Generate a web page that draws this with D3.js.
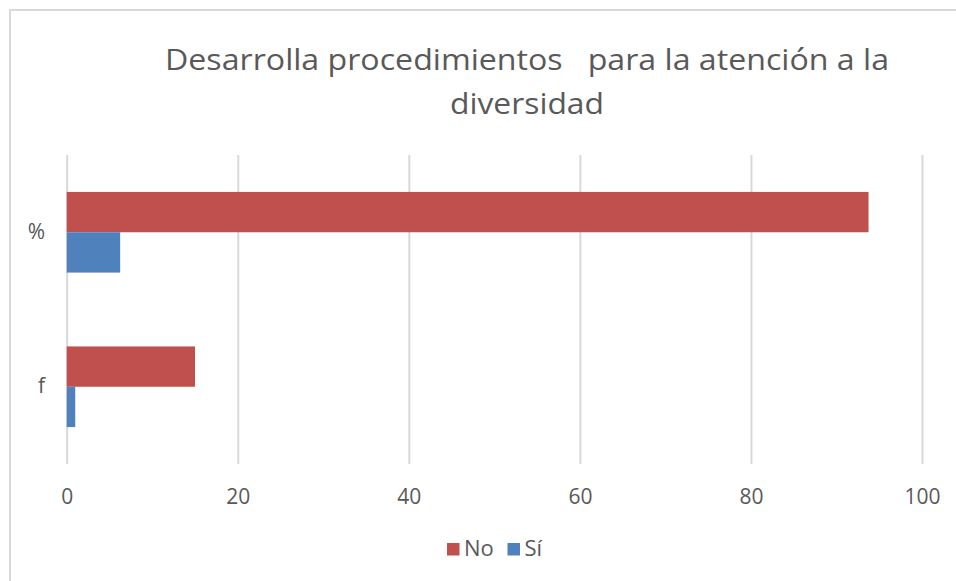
<!DOCTYPE html>
<html>
<head>
<meta charset="utf-8">
<script src="https://cdn.jsdelivr.net/npm/d3@7"></script>
<style>
  html, body { margin: 0; padding: 0; background: #fff; }
  svg { display: block; font-family: 'Open Sans', sans-serif; }
  .tick text { fill: #595959; }
</style>
</head>
<body>
<svg id="chart" width="956" height="581"></svg>
<script>
// data
const categories = ['%', 'f'];
const seriesNames = ['No', 'Sí'];
const noValues = [93.75, 15];
const siValues = [6.25, 1];
const xTicks = [0, 20, 40, 60, 80, 100];
const titleLines = ['Desarrolla procedimientos   para la atención a la', 'diversidad'];

const colors = {No: '#c0504d', 'Sí': '#4f81bd'};
const textColor = '#595959';
const gridColor = '#d9d9d9';

const svg = d3.select('#chart');
const plot = {left: 66.7, right: 922, top: 155, bottom: 464};

// outer chart border (runs off the right and bottom of the picture)
svg.append('rect')
  .attr('x', 10).attr('y', 10)
  .attr('width', 1200).attr('height', 1200)
  .attr('fill', 'none')
  .attr('stroke', gridColor)
  .attr('stroke-width', 2);

// title
const titleLen = [724, 154];
svg.append('g').selectAll('text')
  .data(titleLines)
  .enter().append('text')
    .attr('x', 527)
    .attr('y', (d, i) => 70 + i * 43.5)
    .attr('text-anchor', 'middle')
    .attr('font-size', 30)
    .attr('fill', textColor)
    .attr('textLength', (d, i) => titleLen[i])
    .attr('lengthAdjust', 'spacingAndGlyphs')
    .style('white-space', 'pre')
    .attr('xml:space', 'preserve')
    .text(d => d);

const x = d3.scaleLinear().domain([0, 100]).range([plot.left, plot.right]);
const y = d3.scaleBand().domain(categories)
  .range([plot.top, plot.bottom])
  .paddingInner(0.478).paddingOuter(0.239);
const ySub = d3.scaleBand().domain(seriesNames).range([0, y.bandwidth()]);

// gridlines
svg.append('g')
  .attr('transform', `translate(0,${plot.bottom})`)
  .call(d3.axisBottom(x).tickValues(xTicks).tickSize(-(plot.bottom - plot.top)).tickFormat(''))
  .call(g => g.select('.domain').remove())
  .call(g => g.selectAll('line').attr('stroke', gridColor).attr('stroke-width', 2));

// tick labels
svg.append('g')
  .attr('transform', `translate(0,${plot.bottom})`)
  .call(d3.axisBottom(x).tickValues(xTicks).tickSize(0).tickPadding(0))
  .call(g => g.select('.domain').remove())
  .call(g => g.selectAll('text')
    .attr('dy', null).attr('y', 39.5)
    .attr('font-size', 21).attr('font-family', "'Open Sans', sans-serif"));

// category labels
svg.append('g')
  .call(d3.axisLeft(y).tickSize(0).tickPadding(0))
  .attr('transform', 'translate(45,0)')
  .call(g => g.select('.domain').remove())
  .call(g => g.selectAll('text')
    .attr('font-size', 21).attr('font-family', "'Open Sans', sans-serif"));

// bars
const rows = categories.map((c, i) => ({cat: c, vals: [
  {name: 'No', value: noValues[i]},
  {name: 'Sí', value: siValues[i]}
]}));

svg.append('g').selectAll('g')
  .data(rows)
  .enter().append('g')
    .attr('transform', d => `translate(0,${y(d.cat)})`)
  .selectAll('rect')
  .data(d => d.vals)
  .enter().append('rect')
    .attr('x', x(0))
    .attr('y', d => ySub(d.name))
    .attr('width', d => x(d.value) - x(0))
    .attr('height', ySub.bandwidth())
    .attr('fill', d => colors[d.name]);

// legend
const legendX = [447, 507.5];
const legend = svg.append('g').selectAll('g')
  .data(seriesNames)
  .enter().append('g')
    .attr('transform', (d, i) => `translate(${legendX[i]},543)`);
legend.append('rect')
  .attr('width', 12.5).attr('height', 12.5)
  .attr('fill', d => colors[d]);
legend.append('text')
  .attr('x', 17).attr('y', 12.7)
  .attr('font-size', 22)
  .attr('fill', textColor)
  .text(d => d);
</script>
</body>
</html>
